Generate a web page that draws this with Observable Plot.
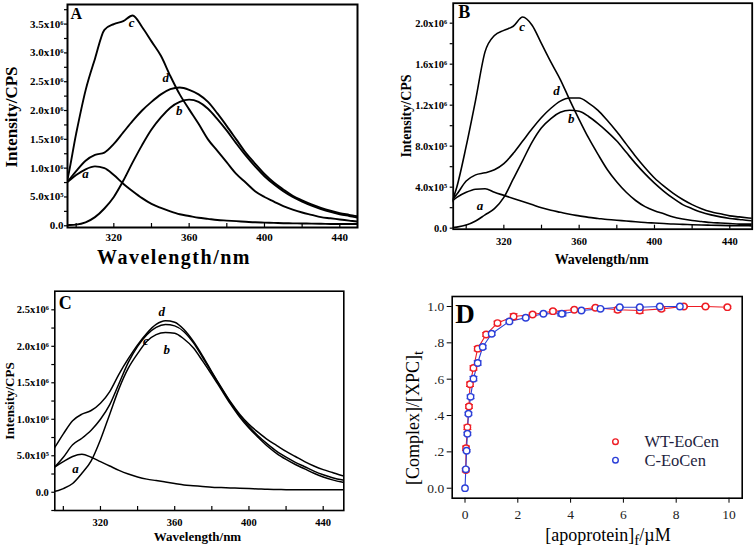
<!DOCTYPE html>
<html><head><meta charset="utf-8">
<script src="https://cdn.jsdelivr.net/npm/d3@7"></script>
<script src="https://cdn.jsdelivr.net/npm/@observablehq/plot@0.6"></script>
<style>
body{margin:0;background:#fff;}
#fig{position:relative;width:756px;height:551px;overflow:hidden;background:#fff;font-family:"Liberation Serif","Times New Roman",serif;color:#000;}
#fig svg{position:absolute;}
.ttl{position:absolute;white-space:nowrap;line-height:1;transform:translate(-50%,-50%);}
.rot{transform:translate(-50%,-50%) rotate(-90deg);}
</style></head><body><div id="fig"></div>
<script>
// ---------- DATA ----------
const wavelength = [290,295,300,305,310,315,320,325,330,335,340,345,350,355,360,365,370,375,380,385,390,395,400,405,410,415,420,425,430,435,440,445,450,455];
// Panel A (intensity in units of 1e6 CPS)
const A_a = [0.65,0.75,0.88,0.98,1.03,1.0,0.88,0.73,0.6,0.48,0.38,0.31,0.25,0.2,0.17,0.14,0.12,0.1,0.09,0.08,0.07,0.06,0.055,0.05,0.045,0.042,0.04,0.038,0.035,0.032,0.03,0.03,0.03,0.03];
const A_b = [0.0,0.01,0.02,0.06,0.15,0.3,0.5,0.78,1.1,1.4,1.67,1.88,2.05,2.15,2.19,2.15,2.03,1.85,1.65,1.43,1.22,1.03,0.86,0.72,0.6,0.5,0.42,0.35,0.29,0.24,0.2,0.17,0.14,0.12];
const A_c = [0.3,0.75,1.6,2.35,2.9,3.4,3.5,3.55,3.65,3.45,3.2,2.95,2.6,2.28,2.02,1.77,1.5,1.3,1.1,0.9,0.75,0.6,0.5,0.42,0.34,0.28,0.23,0.19,0.15,0.13,0.11,0.09,0.07,0.06];
const A_d = [0.6,0.75,0.95,1.13,1.23,1.27,1.42,1.62,1.82,2.0,2.15,2.28,2.37,2.4,2.36,2.28,2.15,1.95,1.73,1.5,1.27,1.08,0.9,0.75,0.63,0.52,0.44,0.37,0.31,0.26,0.22,0.19,0.16,0.14];
// Panel B
const B_a = [0.22,0.3,0.35,0.38,0.385,0.35,0.32,0.29,0.26,0.23,0.2,0.175,0.155,0.135,0.12,0.105,0.095,0.085,0.077,0.07,0.062,0.055,0.05,0.045,0.04,0.037,0.034,0.031,0.029,0.027,0.025,0.024,0.023,0.022];
const B_b = [0.0,0.01,0.03,0.07,0.13,0.19,0.3,0.48,0.66,0.84,0.98,1.07,1.13,1.15,1.14,1.09,1.02,0.94,0.85,0.74,0.63,0.53,0.44,0.36,0.29,0.23,0.19,0.155,0.13,0.11,0.095,0.085,0.075,0.07];
const B_c = [0.15,0.4,0.8,1.25,1.72,1.88,1.93,1.97,2.06,1.98,1.8,1.62,1.45,1.25,1.06,0.88,0.72,0.57,0.45,0.35,0.27,0.21,0.17,0.14,0.11,0.09,0.075,0.065,0.055,0.05,0.045,0.04,0.04,0.04];
const B_d = [0.22,0.33,0.46,0.52,0.54,0.57,0.63,0.73,0.85,0.97,1.08,1.17,1.24,1.27,1.27,1.22,1.15,1.05,0.94,0.82,0.7,0.59,0.49,0.41,0.34,0.28,0.23,0.19,0.16,0.14,0.12,0.11,0.1,0.09];
// Panel C
const C_a = [0.28,0.34,0.42,0.49,0.52,0.48,0.42,0.36,0.3,0.25,0.21,0.18,0.16,0.14,0.12,0.1,0.09,0.08,0.07,0.065,0.06,0.055,0.05,0.045,0.04,0.038,0.036,0.035,0.034,0.033,0.033,0.033,0.033,0.033];
const C_b = [0.0,0.01,0.05,0.12,0.26,0.43,0.72,1.07,1.42,1.7,1.9,2.07,2.16,2.19,2.18,2.1,1.98,1.8,1.61,1.41,1.21,1.03,0.88,0.75,0.63,0.53,0.45,0.38,0.32,0.26,0.21,0.17,0.14,0.12];
const C_c = [0.25,0.34,0.48,0.65,0.74,0.85,1.0,1.2,1.49,1.78,2.0,2.16,2.26,2.3,2.28,2.2,2.05,1.85,1.64,1.43,1.23,1.05,0.9,0.77,0.66,0.56,0.48,0.41,0.35,0.29,0.24,0.2,0.17,0.15];
const C_d = [0.45,0.6,0.8,0.98,1.07,1.12,1.22,1.38,1.62,1.83,2.02,2.18,2.3,2.35,2.33,2.23,2.07,1.87,1.65,1.44,1.24,1.07,0.93,0.82,0.72,0.64,0.56,0.49,0.42,0.36,0.31,0.27,0.23,0.21];
// Curve labels
const curveLabelsA = [{t:"a",x:305,y:0.9},{t:"b",x:354.7,y:2.0},{t:"c",x:329.4,y:3.53},{t:"d",x:347.6,y:2.57}];
const curveLabelsB = [{t:"a",x:307.3,y:0.22},{t:"b",x:355.8,y:1.07},{t:"c",x:329.7,y:1.96},{t:"d",x:348,y:1.34}];
const curveLabelsC = [{t:"a",x:306.6,y:0.32},{t:"b",x:355.7,y:1.95},{t:"c",x:344.5,y:2.08},{t:"d",x:353,y:2.47}];
// Ticks
const xTicks = [320,360,400,440];
const xMinorTicks = [300,320,340,360,380,400,420,440];
const yTicksA = [0,0.5,1.0,1.5,2.0,2.5,3.0,3.5];
const yLabelsA = ["0.0","5.0x10⁵","1.0x10⁶","1.5x10⁶","2.0x10⁶","2.5x10⁶","3.0x10⁶","3.5x10⁶"];
const yMinorA = [0.25,0.75,1.25,1.75,2.25,2.75,3.25,3.75];
const yTicksB = [0,0.4,0.8,1.2,1.6,2.0];
const yLabelsB = ["0.0","4.0x10⁵","8.0x10⁵","1.2x10⁶","1.6x10⁶","2.0x10⁶"];
const yMinorB = [0.2,0.6,1.0,1.4,1.8];
const yTicksC = [0,0.5,1.0,1.5,2.0,2.5];
const yLabelsC = ["0.0","5.0x10⁵","1.0x10⁶","1.5x10⁶","2.0x10⁶","2.5x10⁶"];
const yMinorC = [-0.25,0.25,0.75,1.25,1.75,2.25];
// Panel D
const wtX = [0.03,0.04,0.09,0.15,0.19,0.32,0.48,0.80,1.23,1.84,2.56,3.33,4.14,4.94,5.78,6.62,7.44,8.29,9.11,9.94];
const wtY = [0.10,0.22,0.335,0.45,0.572,0.662,0.768,0.846,0.909,0.945,0.956,0.974,0.982,0.993,0.982,0.978,0.987,1.0,1.0,0.996];
const wtYErr = [0.01,0.012,0.012,0.01,0.012,0.012,0.012,0.01,0.01,0.015,0.008,0.008,0.006,0.006,0.012,0.015,0.01,0.006,0.005,0.006];
const wtXErr = [0.06,0.06,0.06,0.05,0.06,0.06,0.07,0.07,0.08,0.1,0.06,0.06,0.06,0.06,0.08,0.1,0.08,0.06,0.05,0.07];
const cX = [0,0.03,0.06,0.09,0.13,0.21,0.32,0.48,0.67,1.01,1.68,2.30,2.97,3.67,4.41,5.13,5.86,6.62,7.38,8.14];
const cY = [0,0.104,0.206,0.30,0.41,0.503,0.603,0.689,0.777,0.85,0.918,0.938,0.96,0.96,0.978,0.987,0.996,0.996,1.0,1.0];
const cYErr = [0,0.005,0.006,0.008,0.008,0.01,0.012,0.012,0.01,0.008,0.008,0.006,0.005,0.012,0.005,0.005,0.004,0.004,0.004,0.004];
const cXErr = [0,0.03,0.04,0.05,0.05,0.05,0.06,0.06,0.06,0.07,0.08,0.06,0.06,0.15,0.06,0.06,0.05,0.05,0.05,0.05];
const dXTicks = [0,2,4,6,8,10];
const dYTicks = [0,0.2,0.4,0.6,0.8,1.0];
const dYLabels = ["0.0",".2",".4",".6",".8","1.0"];
const seriesNames = ["WT-EoCen","C-EoCen"];
const seriesColors = ["#ee1c24","#2b3fd8"];

// ---------- DRAW ----------
const fig = document.getElementById("fig");
const FONT = '"Liberation Serif", "Times New Roman", serif';

function forceFont(svg, bold) {
  d3.select(svg).selectAll("text, g").each(function () {
    this.setAttribute("font-family", FONT);
    this.style.fontFamily = FONT;
  });
  if (bold) d3.select(svg).selectAll("text").style("font-weight", "bold");
}

function spectrum(o) {
  const rows = [];
  Object.entries(o.curves).forEach(([name, vals]) => wavelength.forEach((w, i) => rows.push({w, v: vals[i], name})));
  const yLab = new Map(o.yTicks.map((t, i) => [t, o.yLabels[i]]));
  const svg = Plot.plot({
    width: 378, height: o.height,
    marginLeft: o.m[0], marginRight: o.m[1], marginTop: o.m[2], marginBottom: o.m[3],
    x: {domain: o.xDomain}, y: {domain: o.yDomain},
    style: {fontFamily: FONT, fontWeight: "bold", background: "transparent", overflow: "visible", color: "#000"},
    marks: [
      Plot.line(rows, {x: "w", y: "v", z: "name", stroke: "#000", strokeWidth: o.lw, clip: true, curve: "monotone-x"}),
      Plot.axisX(xMinorTicks, {tickSize: -4, tickFormat: () => "", label: null, strokeWidth: 1.2}),
      Plot.axisX(xTicks, {tickSize: 0, tickPadding: o.xPad, tickFormat: d => String(d), label: null, fontSize: o.tf}),
      Plot.axisY(o.yMinor.filter(v => v >= o.yDomain[0] && v <= o.yDomain[1]), {tickSize: 3, tickFormat: () => "", label: null, strokeWidth: 1.2}),
      Plot.axisY(o.yTicks, {tickSize: 3, tickPadding: o.yPad, tickFormat: d => yLab.get(d), label: null, fontSize: o.tf, strokeWidth: 1.2}),
      Plot.frame({stroke: "#000", strokeWidth: o.fw}),
      Plot.text(o.labels, {x: "x", y: "y", text: "t", fontStyle: "italic", fontWeight: "bold", fontSize: o.lf}),
      Plot.text([o.panel], {frameAnchor: "top-left", textAnchor: "start", lineAnchor: "top", dx: o.pdx, dy: o.pdy, fontSize: o.pf, fontWeight: "bold", text: d => d})
    ]
  });
  forceFont(svg, true);
  svg.style.left = o.left + "px"; svg.style.top = o.top + "px";
  fig.appendChild(svg);
}

spectrum({curves: {a: A_a, b: A_b, c: A_c, d: A_d}, labels: curveLabelsA, panel: "A",
  left: 0, top: 0, height: 270, m: [67, 21, 4, 43], xDomain: [295.4, 449.4], yDomain: [-0.03, 3.84],
  yTicks: yTicksA, yLabels: yLabelsA, yMinor: yMinorA, lw: 1.9, fw: 2, tf: 11, lf: 13, pf: 16, pdx: 3, pdy: 3, xPad: 6, yPad: 1});
spectrum({curves: {a: B_a, b: B_b, c: B_c, d: B_d}, labels: curveLabelsB, panel: "B",
  left: 378, top: 0, height: 270, m: [74.7, 4.3, 2.7, 41.3], xDomain: [293.1, 451.9], yDomain: [-0.01, 2.195],
  yTicks: yTicksB, yLabels: yLabelsB, yMinor: yMinorB, lw: 1.6, fw: 1.8, tf: 10.5, lf: 13, pf: 18, pdx: 5, pdy: 2, xPad: 8, yPad: 3});
spectrum({curves: {a: C_a, b: C_b, c: C_c, d: C_d}, labels: curveLabelsC, panel: "C",
  left: 0, top: 270, height: 281, m: [54.3, 34.7, 20.7, 41], xDomain: [295.4, 451.1], yDomain: [-0.25, 2.755],
  yTicks: yTicksC, yLabels: yLabelsC, yMinor: yMinorC, lw: 1.5, fw: 1.6, tf: 10.5, lf: 13, pf: 18, pdx: 4, pdy: 5, xPad: 8, yPad: 3});

// Panel D
(function () {
  const rows = [];
  [[wtX, wtY, wtXErr, wtYErr], [cX, cY, cXErr, cYErr]].forEach(([xs, ys, xe, ye], s) =>
    xs.forEach((x, i) => rows.push({s: seriesNames[s], x, y: ys[i], xe: xe[i], ye: ye[i]})));
  const hCap = {draw(ctx, size) { const w = Math.sqrt(size) / 2; ctx.moveTo(-w, 0); ctx.lineTo(w, 0); }};
  const vCap = {draw(ctx, size) { const w = Math.sqrt(size) / 3; ctx.moveTo(0, -w); ctx.lineTo(0, w); }};
  const color = {domain: seriesNames, range: seriesColors};
  const legend = seriesNames.map((s, i) => ({s, x: 5.7, y: [0.256, 0.154][i]}));
  const svg = Plot.plot({
    width: 378, height: 281,
    marginLeft: 73.7, marginRight: 14.3, marginTop: 26, marginBottom: 53.3,
    x: {domain: [-0.485, 10.5]}, y: {domain: [-0.055, 1.055]},
    color,
    style: {fontFamily: FONT, background: "transparent", overflow: "visible", color: "#000"},
    marks: [
      Plot.line(rows, {x: "x", y: "y", z: "s", stroke: "s", strokeWidth: 1.1}),
      Plot.link(rows.filter(d => d.ye > 0), {x1: "x", x2: "x", y1: d => d.y - d.ye, y2: d => d.y + d.ye, stroke: "s", strokeWidth: 1.1}),
      Plot.link(rows.filter(d => d.xe > 0), {x1: d => d.x - d.xe, x2: d => d.x + d.xe, y1: "y", y2: "y", stroke: "s", strokeWidth: 1.1}),
      Plot.dot(rows.filter(d => d.ye > 0), {x: "x", y: d => d.y - d.ye, symbol: hCap, r: 4.5, stroke: "s", fill: "none", strokeWidth: 1.1}),
      Plot.dot(rows.filter(d => d.ye > 0), {x: "x", y: d => d.y + d.ye, symbol: hCap, r: 4.5, stroke: "s", fill: "none", strokeWidth: 1.1}),
      Plot.dot(rows.filter(d => d.xe > 0), {x: d => d.x - d.xe, y: "y", symbol: vCap, r: 4.5, stroke: "s", fill: "none", strokeWidth: 1.1}),
      Plot.dot(rows.filter(d => d.xe > 0), {x: d => d.x + d.xe, y: "y", symbol: vCap, r: 4.5, stroke: "s", fill: "none", strokeWidth: 1.1}),
      Plot.dot(rows, {x: "x", y: "y", r: 3.2, stroke: "s", fill: "white", strokeWidth: 1.4}),
      Plot.axisX(dXTicks, {tickSize: 5, tickPadding: 6, label: null, fontSize: 13.5, fill: "#222"}),
      Plot.axisY(dYTicks, {tickSize: 5, tickPadding: 3, tickFormat: d => dYLabels[dYTicks.indexOf(d)], label: null, fontSize: 13.5, fill: "#222"}),
      Plot.frame({stroke: "#000", strokeWidth: 1.6}),
      Plot.dot(legend, {x: "x", y: "y", r: 2.8, stroke: "s", fill: "white", strokeWidth: 1.4}),
      Plot.text(legend, {x: 6.8, y: "y", text: "s", textAnchor: "start", fontSize: 16.5, fill: "#1e1e40"}),
      Plot.text(["D"], {frameAnchor: "top-left", textAnchor: "start", lineAnchor: "top", dx: 3, dy: 7, fontSize: 27, fontWeight: "bold", text: d => d})
    ]
  });
  forceFont(svg, false);
  svg.style.left = "378px"; svg.style.top = "270px";
  fig.appendChild(svg);
})();

// ---------- AXIS TITLES ----------
const titles = [
  {html: "Intensity/CPS", x: 11, y: 117, size: 17, bold: true, rot: true},
  {html: "Wavelength/nm", x: 174, y: 257, size: 20, bold: true, ls: 1.5},
  {html: "Intensity/CPS", x: 406.7, y: 116, size: 14, bold: true, rot: true},
  {html: "Wavelength/nm", x: 601.7, y: 260, size: 14, bold: true},
  {html: "Intensity/CPS", x: 8.5, y: 401, size: 13, bold: true, rot: true},
  {html: "Wavelength/nm", x: 197.5, y: 536, size: 13, bold: true},
  {html: "[Complex]/[XPC]<sub>t</sub>", x: 415, y: 418, size: 18, rot: true},
  {html: "[apoprotein]<sub>f</sub>/µM", x: 608, y: 537, size: 18}
];
titles.forEach(t => {
  const el = document.createElement("div");
  el.className = "ttl" + (t.rot ? " rot" : "");
  el.innerHTML = t.html;
  el.style.left = t.x + "px"; el.style.top = t.y + "px";
  el.style.fontSize = t.size + "px";
  el.style.fontWeight = t.bold ? "bold" : "normal";
  if (t.ls) el.style.letterSpacing = t.ls + "px";
  fig.appendChild(el);
});
</script></body></html>
